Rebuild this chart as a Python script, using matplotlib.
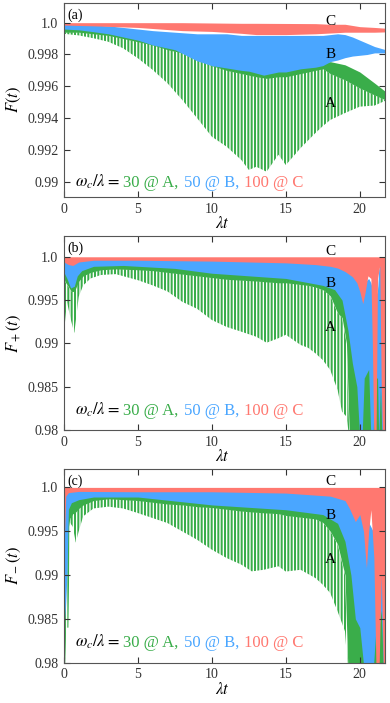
import matplotlib
matplotlib.use('Agg')
import matplotlib.pyplot as plt
import numpy as np

plt.rcParams['font.family'] = 'serif'
plt.rcParams['font.serif'] = ['Liberation Serif', 'DejaVu Serif']
plt.rcParams['mathtext.fontset'] = 'stix'
plt.rcParams['hatch.linewidth'] = 1.45

GREEN = '#3aad4a'
BLUE = '#4aa6ff'
RED = '#ff7870'

# ---------------- panel (a): F(t) ----------------
t_a_red = [0, 2, 5, 8, 10, 12, 13, 15, 17, 18, 19, 20, 21, 21.75]
a_red_top = [1.0, 1.0, 1.0, 1.0, 0.99998, 0.99996, 0.99996, 0.99995, 0.99994, 0.9999, 0.9999, 0.99975, 0.9997, 0.99965]
a_red_bot = [0.99985, 0.9998, 0.9997, 0.9995, 0.99945, 0.99933, 0.99925, 0.99925, 0.9993, 0.99935, 0.9994, 0.9994, 0.9994, 0.99942]

t_a_blue = [0, 1, 2, 3, 4, 5, 6, 7.5, 9, 10, 11, 12, 12.5, 13.5, 14.5, 15, 16, 17, 17.5, 18, 18.5, 19, 19.5, 20, 20.5, 21, 21.75]
a_blue_top = [0.99995, 0.9999, 0.99985, 0.9998, 0.9997, 0.9996, 0.9995, 0.9994, 0.9993, 0.9993, 0.9993, 0.9992, 0.9992, 0.9992,
              0.9992, 0.9992, 0.9992, 0.9992, 0.9992, 0.99925, 0.9993, 0.99925, 0.9991, 0.9989, 0.9987, 0.9985, 0.9983]
a_blue_bot = [0.9996, 0.99955, 0.99943, 0.9993, 0.9991, 0.9989, 0.9986, 0.9983, 0.9976, 0.9973, 0.99715, 0.997, 0.99695, 0.9967,
              0.9969, 0.9969, 0.9971, 0.9972, 0.9973, 0.99755, 0.99765, 0.9978, 0.9979, 0.99795, 0.998, 0.9981, 0.9981]

t_a_green = [0, 1, 2, 3, 4, 5, 6, 7, 8, 9, 10, 11, 12, 12.5, 13, 13.7, 14.5, 15, 16, 17, 17.5, 18, 19, 20, 21, 21.75]
a_green_top = [0.99975, 0.99975, 0.9997, 0.9996, 0.9995, 0.9993, 0.9991, 0.9989, 0.9987, 0.9985, 0.9982, 0.998, 0.9978, 0.9977,
               0.9976, 0.9975, 0.9975, 0.9975, 0.9975, 0.9975, 0.9975, 0.99755, 0.99735, 0.9969, 0.9962, 0.99566]
a_green_body = [0.9994, 0.9994, 0.9993, 0.9992, 0.999, 0.9988, 0.9986, 0.9983, 0.9981, 0.9977, 0.9973, 0.997, 0.9968, 0.9967,
                0.9966, 0.9965, 0.9966, 0.9966, 0.9968, 0.997, 0.9971, 0.9968, 0.9964, 0.99589, 0.99545, 0.99514]
a_green_spike = [0.9993, 0.9992, 0.99902, 0.9988, 0.99839, 0.99776, 0.99703, 0.99619, 0.99514, 0.994, 0.99283, 0.9922, 0.99136,
                 0.99074, 0.99094, 0.99063, 0.9917, 0.99105, 0.99212, 0.99306, 0.9935, 0.99388, 0.99432, 0.99472, 0.99479, 0.9951]

# ---------------- panel (b): F+(t) ----------------
t_b_red = [0, 0.3, 0.6, 1.0, 2, 5, 10, 15, 17, 18, 18.5, 19, 19.5, 19.8, 20.0, 20.2, 20.35, 20.55, 20.75, 20.85, 20.95,
           21.1, 21.2, 21.35, 21.45, 21.55, 21.75]
b_red_top = [1.0] * 27
b_red_bot = [0.9994, 0.9991, 0.999, 0.9994, 0.9996, 0.9996, 0.9995, 0.9993, 0.9991, 0.9989, 0.9987, 0.9983, 0.9977, 0.997,
             0.996, 0.9946, 0.9958, 0.9978, 0.9975, 0.99, 0.979, 0.979, 0.9975, 0.999, 0.985, 0.979, 0.979]

t_b_blue = [0, 0.2, 0.45, 0.7, 0.9, 1.2, 2, 4, 7.5, 10, 12.5, 15, 17.5, 18.3, 18.8, 19.2, 19.5, 19.8, 20.0, 20.15, 20.3,
            20.6, 20.75, 20.9, 21.0, 21.2, 21.28, 21.4, 21.5, 21.75]
b_blue_top = [0.9998, 0.9998, 0.9998, 0.9998, 0.9998, 0.9998, 0.9998, 0.9998, 0.9998, 0.9998, 0.9998, 0.9998, 0.9998, 0.9997,
              0.9995, 0.9993, 0.999, 0.9985, 0.998, 0.997, 0.997, 0.9975, 0.997, 0.996, 0.995, 0.996, 0.9985, 0.9993,
              0.998, 0.997]
b_blue_bot = [0.9982, 0.9975, 0.9964, 0.9966, 0.9978, 0.9984, 0.9989, 0.999, 0.99866, 0.9981, 0.9978, 0.9975, 0.9967, 0.9962,
              0.995, 0.9915, 0.9877, 0.985, 0.979, 0.979, 0.986, 0.987, 0.979, 0.979, 0.986, 0.986, 0.979, 0.985, 0.979, 0.979]

t_b_green = [0, 0.05, 0.2, 0.5, 0.7, 1.0, 1.3, 1.8, 2.5, 3.5, 5, 6, 7, 8, 9, 10, 11, 12, 13, 13.7, 14.5, 15, 16, 16.5, 17,
             17.5, 18, 18.5, 18.8, 19.1, 19.3, 19.6, 20, 20.5, 21, 21.3, 21.45, 21.75]
b_green_top = [0.9995, 0.9993, 0.999, 0.9985, 0.9985, 0.9988, 0.999, 0.9992, 0.9994, 0.9994, 0.9993, 0.9993, 0.9992, 0.9991,
               0.9989, 0.9987, 0.9986, 0.9984, 0.9983, 0.9982, 0.9981, 0.998, 0.9978, 0.9977, 0.9976, 0.9974, 0.997,
               0.9968, 0.9966, 0.9963, 0.996, 0.9955, 0.994, 0.993, 0.994, 0.997, 0.999, 0.996]
b_green_body = [0.9978, 0.9972, 0.9968, 0.996, 0.996, 0.9972, 0.9978, 0.9982, 0.9985, 0.9986, 0.9985, 0.9984, 0.9982, 0.998,
                0.9978, 0.9976, 0.9974, 0.9973, 0.9972, 0.9971, 0.997, 0.997, 0.9968, 0.9967, 0.9965, 0.9962, 0.9955,
                0.9935, 0.993, 0.99, 0.979, 0.979, 0.979, 0.979, 0.979, 0.979, 0.979, 0.979]
b_green_spike = [0.9935, 0.9921, 0.9948, 0.9925, 0.9912, 0.9954, 0.9967, 0.9975, 0.9979, 0.998, 0.9973, 0.9967, 0.996, 0.9948,
                 0.994, 0.9927, 0.9919, 0.99135, 0.99077, 0.99008, 0.9906, 0.991, 0.98982, 0.9895, 0.98886, 0.98808,
                 0.98693, 0.98462, 0.98212, 0.98155, 0.979, 0.979, 0.979, 0.979, 0.979, 0.979, 0.979, 0.979]

# ---------------- panel (c): F-(t) ----------------
t_c_red = [0, 0.05, 0.12, 0.3, 1, 5, 10, 15, 18, 19, 19.3, 19.7, 20.0, 20.25, 20.45, 20.6, 20.75, 20.95, 21.1, 21.3,
           21.45, 21.6, 21.75]
c_red_top = [1.0] * 23
c_red_bot = [0.995, 0.9952, 0.999, 0.9994, 0.99954, 0.9995, 0.9995, 0.99935, 0.999, 0.9985, 0.9976, 0.9961, 0.9969, 0.995,
             0.9908, 0.995, 0.99745, 0.992, 0.979, 0.979, 0.99, 0.979, 0.979]

t_c_blue = [0, 0.07, 0.2, 0.3, 0.5, 1, 2, 5, 10, 15, 17.5, 18.5, 19, 19.4, 19.7, 20.0, 20.3, 20.6, 20.9, 21.1, 21.3, 21.45,
            21.6, 21.75]
c_blue_top = [0.9995, 0.9995, 0.9997, 0.9997, 0.9998, 0.9998, 0.9998, 0.9998, 0.9998, 0.9998, 0.9998, 0.9998, 0.9998,
              0.9992, 0.9988, 0.998, 0.997, 0.996, 0.995, 0.996, 0.997, 0.9986, 0.998, 0.997]
c_blue_bot = [0.99, 0.985, 0.99, 0.9975, 0.99825, 0.9986, 0.9989, 0.9989, 0.998, 0.99745, 0.9969, 0.9959, 0.99384, 0.99,
              0.985, 0.984, 0.979, 0.979, 0.979, 0.984, 0.984, 0.986, 0.979, 0.979]

t_c_green = [0, 0.05, 0.15, 0.3, 0.4, 0.6, 0.8, 1.0, 1.3, 2, 3, 4, 5, 6, 7, 8, 9, 10, 11, 12, 12.7, 13.5, 14.5, 15, 16, 17,
             17.5, 18, 18.5, 19, 19.2, 19.6, 20, 20.5, 21, 21.4, 21.75]
c_green_top = [0.9985, 0.9985, 0.9985, 0.9985, 0.9986, 0.9987, 0.9988, 0.9988, 0.999, 0.9992, 0.9993, 0.9992, 0.9991, 0.999,
               0.9989, 0.9987, 0.9986, 0.9984, 0.9982, 0.998, 0.9979, 0.9978, 0.9977, 0.9976, 0.9974, 0.9971, 0.997,
               0.9966, 0.9963, 0.996, 0.9958, 0.9955, 0.994, 0.993, 0.994, 0.997, 0.996]
c_green_body = [0.979, 0.98, 0.993, 0.9955, 0.9965, 0.997, 0.9972, 0.9976, 0.998, 0.9985, 0.9987, 0.9986, 0.9985, 0.9983,
                0.9981, 0.998, 0.9978, 0.9977, 0.9975, 0.9973, 0.9972, 0.9971, 0.997, 0.9968, 0.9966, 0.9964, 0.996,
                0.995, 0.9935, 0.99, 0.979, 0.979, 0.979, 0.979, 0.979, 0.979, 0.979]
c_green_spike = [0.979, 0.979, 0.984, 0.984, 0.996, 0.9955, 0.9937, 0.995, 0.9967, 0.9976, 0.9978, 0.9976, 0.99707, 0.9965,
                 0.99593, 0.99498, 0.99403, 0.99289, 0.99194, 0.99118, 0.99042, 0.9906, 0.991, 0.9904, 0.9906, 0.98966,
                 0.9889, 0.98795, 0.98586, 0.98358, 0.979, 0.979, 0.979, 0.979, 0.979, 0.979, 0.979]

xticks = [0, 5, 10, 15, 20]
yticks_a = [0.99, 0.992, 0.994, 0.996, 0.998, 1.0]
ylabels_a = ['0.99', '0.992', '0.994', '0.996', '0.998', '1.0']
yticks_bc = [0.98, 0.985, 0.99, 0.995, 1.0]
ylabels_bc = ['0.98', '0.985', '0.99', '0.995', '1.0']
curve_names = ['A', 'B', 'C']
legend_parts = ['30 @ A,', '50 @ B,', '100 @ C']


fig = plt.figure(figsize=(3.9, 7.03), dpi=100)
ax_a = fig.add_axes([0.164, 0.7198, 0.823, 0.276])
ax_b = fig.add_axes([0.164, 0.3883, 0.823, 0.276])
ax_c = fig.add_axes([0.164, 0.0573, 0.823, 0.2756])


def draw_panel(ax, tg, g_top, g_body, g_spike, tb, b_top, b_bot, tr, r_top, r_bot):
    # green: solid upper part + dense spikes (hatched) down to the spike envelope
    ax.fill_between(tg, g_body, g_spike, facecolor='none', edgecolor=GREEN, hatch='|||||', linewidth=0)
    ax.fill_between(tg, g_top, g_body, color=GREEN, linewidth=0)
    ax.fill_between(tb, b_bot, b_top, color=BLUE, linewidth=0)
    ax.fill_between(tr, r_bot, r_top, color=RED, linewidth=0)


draw_panel(ax_a, t_a_green, a_green_top, a_green_body, a_green_spike,
           t_a_blue, a_blue_top, a_blue_bot, t_a_red, a_red_top, a_red_bot)
draw_panel(ax_b, t_b_green, b_green_top, b_green_body, b_green_spike,
           t_b_blue, b_blue_top, b_blue_bot, t_b_red, b_red_top, b_red_bot)
draw_panel(ax_c, t_c_green, c_green_top, c_green_body, c_green_spike,
           t_c_blue, c_blue_top, c_blue_bot, t_c_red, c_red_top, c_red_bot)

panels = [
    (ax_a, (0.98904, 1.00124), yticks_a, ylabels_a, r'$F(t)$', '(a)', [0.99489, 0.99797, 1.0001], 0.053),
    (ax_b, (0.98, 1.0024), yticks_bc, ylabels_bc, r'$F_+(t)$', '(b)', [0.99178, 0.99697, 1.0006], 0.077),
    (ax_c, (0.98, 1.0021), yticks_bc, ylabels_bc, r'$F_-(t)$', '(c)', [0.99174, 0.9968, 1.0007], 0.082),
]

for ax, ylim, yt, yl, ylab, tag, name_y, leg_y in panels:
    ax.set_xlim(0, 21.7)
    ax.set_ylim(*ylim)
    ax.set_xticks(xticks)
    ax.set_xticklabels([str(x) for x in xticks])
    ax.set_yticks(yt)
    ax.set_yticklabels(yl)
    ax.tick_params(direction='in', top=True, right=True, length=4, width=0.8,
                   labelsize=10, colors='#333333', pad=4)
    for sp in ax.spines.values():
        sp.set_color('#555555')
        sp.set_linewidth(0.8)
    ax.set_xlabel(r'$\lambda t$', fontsize=12)
    ax.xaxis.set_label_coords(0.495, -0.1)
    ax.set_ylabel(ylab, fontsize=12)
    ax.yaxis.set_label_coords(-0.128, 0.5)
    ax.text(0.012, 0.935, tag, transform=ax.transAxes, fontsize=10, va='center', ha='left')
    for nm, ny in zip(curve_names, name_y):
        ax.text(18.0, ny, nm, fontsize=11, ha='center', va='center')

    ax.text(0.172, leg_y, r'$\omega_c/\lambda=$', transform=ax.transAxes, fontsize=12,
            ha='right', va='baseline')
    prev = ax.text(0.183, leg_y, legend_parts[0], transform=ax.transAxes, fontsize=12,
                   color=GREEN, ha='left', va='baseline')
    for part, col in zip(legend_parts[1:], [BLUE, RED]):
        prev = ax.annotate(part, xy=(1, 0), xycoords=prev, xytext=(4, 0), textcoords='offset points',
                           fontsize=12, color=col, ha='left', va='bottom')

fig.savefig('out.png', dpi=100)
